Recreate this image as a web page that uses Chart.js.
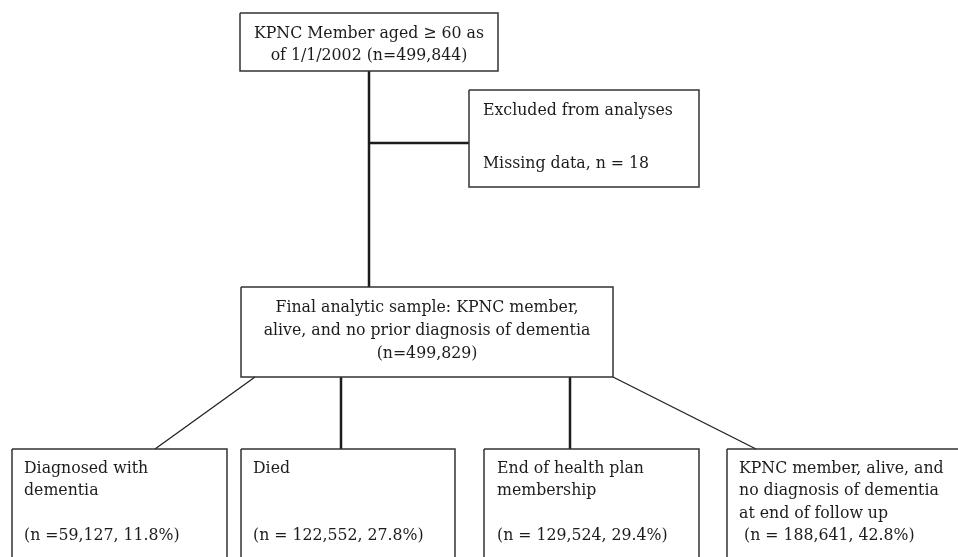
<!DOCTYPE html>
<html>
<head>
<meta charset="utf-8">
<script src="https://cdn.jsdelivr.net/npm/chart.js@4/dist/chart.umd.min.js"></script>
<style>
  html, body { margin: 0; padding: 0; background: #fff; }
  #wrap { width: 958px; height: 557px; position: relative; }
</style>
</head>
<body>
<div id="wrap"><canvas id="flow"></canvas></div>
<script>
// flow counts
const stageNames = ["start", "excluded", "final", "dementia", "died", "ended", "alive"];
const counts = [499844, 18, 499829, 59127, 122552, 129524, 188641];
const percents = [null, null, null, 11.8, 27.8, 29.4, 42.8];

const fmt = n => n.toLocaleString("en-US");

// text shown in each box
const boxText = [
    ["KPNC Member aged \u2265 60 as", `of 1/1/2002 (n=${fmt(counts[0])})`],
    ["Excluded from analyses", "", `Missing data, n = ${fmt(counts[1])}`],
    ["Final analytic sample: KPNC member,", "alive, and no prior diagnosis of dementia", `(n=${fmt(counts[2])})`],
    ["Diagnosed with", "dementia", "", `(n =${fmt(counts[3])}, ${percents[3]}%)`],
    ["Died", "", "", `(n = ${fmt(counts[4])}, ${percents[4]}%)`],
    ["End of health plan", "membership", "", `(n = ${fmt(counts[5])}, ${percents[5]}%)`],
    ["KPNC member, alive, and", "no diagnosis of dementia", "at end of follow up", ` (n = ${fmt(counts[6])}, ${percents[6]}%)`]
];

// layout, in page units (scale 0..958 x 0..557)
const boxes = [
    { x0: 240, x1: 498, y0: 13, y1: 71, align: "center", ty: 33, lh: 22.5 },
    { x0: 469, x1: 699, y0: 90, y1: 187, align: "left", tx: 483, ty: 110, lh: 26.5 },
    { x0: 241, x1: 613, y0: 287, y1: 377, align: "center", ty: 307, lh: 23 },
    { x0: 12, x1: 227, y0: 449, y1: 600, align: "left", tx: 24, ty: 468, lh: 22.5 },
    { x0: 241, x1: 455, y0: 449, y1: 600, align: "left", tx: 253, ty: 468, lh: 22.5 },
    { x0: 484, x1: 699, y0: 449, y1: 600, align: "left", tx: 497, ty: 468, lh: 22.5 },
    { x0: 727, x1: 960, y0: 449, y1: 600, align: "left", tx: 739, ty: 468, lh: 22.5 }
];

const links = [
    { pts: [[369, 71], [369, 287]], w: 2.5 },
    { pts: [[369, 143], [469, 143]], w: 2.5 },
    { pts: [[255, 377], [155, 449]], w: 1.2 },
    { pts: [[341, 377], [341, 449]], w: 2.5 },
    { pts: [[570, 377], [570, 449]], w: 2.5 },
    { pts: [[613, 377], [756, 449]], w: 1.2 }
];

const ink = "#1e1b1c";
const fontFamily = "'DejaVu Serif Condensed', 'DejaVu Serif', serif";

const datasets = [];
boxes.forEach((b, i) => {
    datasets.push({
        label: stageNames[i],
        data: [{ x: b.x0, y: b.y0 }, { x: b.x1, y: b.y0 }, { x: b.x1, y: b.y1 }, { x: b.x0, y: b.y1 }, { x: b.x0, y: b.y0 }],
        showLine: true,
        borderColor: "#333",
        borderWidth: 1.5,
        borderJoinStyle: "miter",
        pointRadius: 0,
        tension: 0
    });
});
links.forEach((l, i) => {
    datasets.push({
        label: "link" + i,
        data: l.pts.map(p => ({ x: p[0], y: p[1] })),
        showLine: true,
        borderColor: ink,
        borderWidth: l.w,
        pointRadius: 0,
        tension: 0
    });
});

const boxLabels = {
    id: "boxLabels",
    afterDatasetsDraw(chart) {
        const { ctx, scales: { x, y } } = chart;
        ctx.save();
        ctx.fillStyle = ink;
        ctx.font = `17.5px ${fontFamily}`;
        ctx.textBaseline = "middle";
        boxes.forEach((b, i) => {
            boxText[i].forEach((line, k) => {
                const py = y.getPixelForValue(b.ty + k * b.lh);
                if (b.align === "center") {
                    ctx.textAlign = "center";
                    ctx.fillText(line, x.getPixelForValue((b.x0 + b.x1) / 2), py);
                } else {
                    ctx.textAlign = "left";
                    ctx.fillText(line, x.getPixelForValue(b.tx), py);
                }
            });
        });
        ctx.restore();
    }
};

new Chart(document.getElementById("flow"), {
    type: "scatter",
    data: { datasets },
    options: {
        responsive: true,
        maintainAspectRatio: false,
        animation: false,
        layout: { padding: 0 },
        plugins: { legend: { display: false }, tooltip: { enabled: false } },
        scales: {
            x: { type: "linear", min: 0, max: 958, display: false },
            y: { type: "linear", min: 0, max: 557, reverse: true, display: false }
        }
    },
    plugins: [boxLabels]
});
</script>
</body>
</html>
